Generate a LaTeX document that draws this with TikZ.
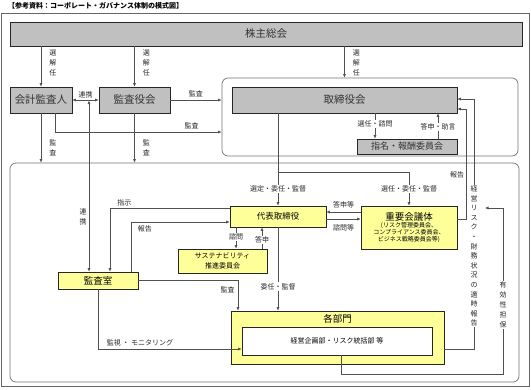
\documentclass[tikz,border=0pt]{standalone}
\usepackage{fontspec}
\setmainfont{Noto Sans CJK JP}
\usetikzlibrary{arrows.meta}
\definecolor{kiiro}{RGB}{255,255,153}
\definecolor{haiiro}{RGB}{192,192,192}
\definecolor{sen}{RGB}{80,80,80}

\begin{document}
\begin{tikzpicture}[x=1pt, y=-1pt,
    >={Latex[length=3.5pt,width=3pt]},
    graybox/.style={draw=black!85, fill=haiiro, line width=0.6pt, inner sep=0pt,
        text=black!80, font=\fontsize{10.5}{12}\selectfont},
    yellowbox/.style={draw=black!85, fill=kiiro, line width=0.6pt, inner sep=0pt,
        font=\fontsize{8.5}{10}\selectfont},
    waku/.style={draw=black!55, line width=0.7pt, rounded corners=6pt, inner sep=0pt},
    conn/.style={draw=sen, line width=0.6pt, ->},
    lbl/.style={font=\fontsize{7}{8}\selectfont, inner sep=1pt, text=black!85},
    lblw/.style={lbl, fill=white},
    tate/.style={lbl, align=center, font=\fontsize{7}{9.6}\selectfont},
]
    \useasboundingbox (0,0) rectangle (531,389);

    % ---- Marco y titulo ----
    \draw[black!60, line width=0.7pt] (1.5,13) rectangle (529.5,386.5);
    \node[anchor=west, inner sep=0pt, font=\fontsize{7}{8}\selectfont\bfseries] (midashi) at (8,6)
        {【参考資料：コーポレート・ガバナンス体制の模式図】};

    % ---- Cajas superiores ----
    \node[graybox, minimum width=512pt, minimum height=24pt] (kabunushi) at (266,34) {株主総会};
    \node[graybox, minimum width=62pt, minimum height=26pt] (kaikei) at (41,100) {会計監査人};
    \node[graybox, minimum width=71pt, minimum height=26pt] (kansayaku) at (134.5,100) {監査役会};
    \node[waku, minimum width=296pt, minimum height=78pt] (torikai) at (370,117) {};
    \node[graybox, minimum width=225pt, minimum height=26pt] (torishimari) at (344.5,100) {取締役会};
    \node[graybox, minimum width=100pt, minimum height=15pt, font=\fontsize{9}{10}\selectfont]
        (shimei) at (407,146.5) {指名・報酬委員会};

    % ---- Bloque ejecutivo ----
    \node[waku, minimum width=509pt, minimum height=219pt] (shikkou) at (264.5,272.5) {};
    \node[yellowbox, minimum width=96pt, minimum height=21pt] (daihyo) at (278,216.5) {代表取締役};
    \node[yellowbox, minimum width=96pt, minimum height=43pt, align=center, font=\fontsize{6}{7}\selectfont]
        (juyo) at (409,227.5)
        {{\fontsize{9.5}{11}\selectfont 重要会議体}\\(リスク管理委員会、\\コンプライアンス委員会、\\ビジネス戦略委員会等)};
    \node[yellowbox, minimum width=89pt, minimum height=24pt, align=center, font=\fontsize{7}{9.5}\selectfont]
        (sustain) at (222.5,261) {サステナビリティ\\推進委員会};
    \node[yellowbox, minimum width=80pt, minimum height=17pt, font=\fontsize{9.5}{11}\selectfont]
        (kansashitsu) at (98,280.5) {監査室};
    \node[yellowbox, minimum width=213pt, minimum height=53pt] (kakubumon) at (337.5,337.5) {};
    \node[below, font=\fontsize{9.5}{11}\selectfont] (bumonmei) at (kakubumon.north) {各部門};
    \node[draw=black!85, fill=white, line width=0.6pt, inner sep=0pt, minimum width=190pt,
        minimum height=28pt, font=\fontsize{7}{8}\selectfont] (naibu) at (337,341) {経営企画部・リスク統括部 等};

    % ---- Flechas desde el 株主総会 ----
    \draw[conn] (kabunushi.south -| kaikei) -- (kaikei.north)
        node[tate, right=7pt, pos=0.41] {選\\解\\任};
    \draw[conn] (kabunushi.south -| kansayaku) -- (kansayaku.north)
        node[tate, right=7pt, pos=0.41] {選\\解\\任};
    \draw[conn] (kabunushi.south -| torishimari) -- (torishimari.north |- torikai.north)
        node[tate, right=7pt, pos=0.53] {選\\解\\任};

    % ---- Auditoria ----
    \draw[conn, <->] (kaikei.east) -- (kansayaku.west) node[lbl, midway, above=1pt] {連携};
    \coordinate (renkei) at (89,100.5);
    \draw[conn, <->] (renkei) -- (renkei |- kansashitsu.north)
        node[tate, left=1pt, pos=0.68] {連\\携};
    \draw[conn] (kansayaku.east) -- (kansayaku.east -| torikai.west)
        node[lbl, midway, above=2pt] {監査};
    \draw[conn] ([xshift=14pt]kaikei.south) |- ([yshift=-15pt]torikai.west)
        node[lbl, pos=0.91, above=2pt] {監査};
    \draw[conn] (kaikei.south) -- (kaikei.south |- shikkou.north)
        node[tate, right=7pt, pos=0.7] {監\\査};
    \draw[conn] (kansayaku.south) -- (kansayaku.south |- shikkou.north)
        node[tate, right=7pt, pos=0.7] {監\\査};

    % ---- 取締役会 y comites ----
    \draw[conn] ([xshift=30.5pt]torishimari.south) -- ([xshift=-32pt]shimei.north)
        node[lblw, pos=0.42] {選任・諮問};
    \draw[conn] ([xshift=31pt]shimei.north) -- ([xshift=93.5pt]torishimari.south)
        node[lblw, pos=0.46] {答申・助言};
    \draw[conn] (torishimari.south -| daihyo) -- (daihyo.north)
        node[lblw, pos=0.82] {選定・委任・監督};
    \coordinate (bunki) at (278,172);
    \draw[conn] (bunki) -| (juyo.north) node[lblw, pos=0.75] {選任・委任・監督};

    % ---- 代表取締役 ----
    \draw[conn] ([yshift=15.5pt]juyo.west) -- ([yshift=4.5pt]daihyo.east)
        node[lbl, midway, above=3pt] {答申等};
    \draw[conn] ([yshift=-2.5pt]daihyo.east) -- ([yshift=8.5pt]juyo.west)
        node[lbl, midway, below=4pt] {諮問等};
    \draw[conn] ([xshift=-42pt]daihyo.south) -- ([xshift=13.5pt]sustain.north)
        node[lblw, pos=0.45] {諮問};
    \draw[conn] ([xshift=39.5pt]sustain.north) -- ([xshift=-16pt]daihyo.south)
        node[lblw, pos=0.41] {答申};
    \draw[conn] ([yshift=8.5pt]daihyo.west) -| ([xshift=12pt]kansashitsu.north)
        node[lbl, pos=0.44, above=1pt] {指示};
    \draw[conn] ([xshift=33pt]kansashitsu.north) |- ([yshift=-5.5pt]daihyo.west)
        node[lbl, pos=0.57, below=2pt] {報告};
    \draw[conn] (daihyo.south) -- (daihyo.south |- kakubumon.north)
        node[lblw, pos=0.71] {委任・監督};

    % ---- 監査室 ----
    \draw[conn] (kansashitsu.east) -| ([xshift=-99.5pt]kakubumon.north)
        node[lbl, pos=0.65, left=2pt] {監査};
    \draw[conn] (kansashitsu.south) |- ([yshift=-8pt]naibu.west)
        node[lbl, pos=0.646, above=2pt] {監視 ・ モニタリング};

    % ---- Informes al 取締役会 ----
    \draw[conn] ([yshift=8.5pt]juyo.east) -| ([xshift=9pt,yshift=-9pt]torishimari.east)
        node[lbl, pos=0.7, left=1pt] {報告} -- ([yshift=-9pt]torishimari.east);
    \draw[conn] ([yshift=-11.5pt]kakubumon.east) -| ([xshift=17pt,yshift=1pt]torishimari.east)
        -- ([yshift=1pt]torishimari.east);
    \node[tate, fill=white] (risklbl) at (474,256) {経\\営\\リ\\ス\\ク\\・\\財\\務\\状\\況\\の\\適\\時\\報\\告};

    % ---- 有効性担保 ----
    \coordinate (yukokado) at (503,374);
    \coordinate (yukosaki) at (485,208);
    \draw[conn] ([xshift=4pt]naibu.south) |- (yukokado) |- (yukosaki);
    \node[tate, fill=white, font=\fontsize{7}{10}\selectfont] (yukolbl) at (503,305) {有\\効\\性\\担\\保};
\end{tikzpicture}
\end{document}
